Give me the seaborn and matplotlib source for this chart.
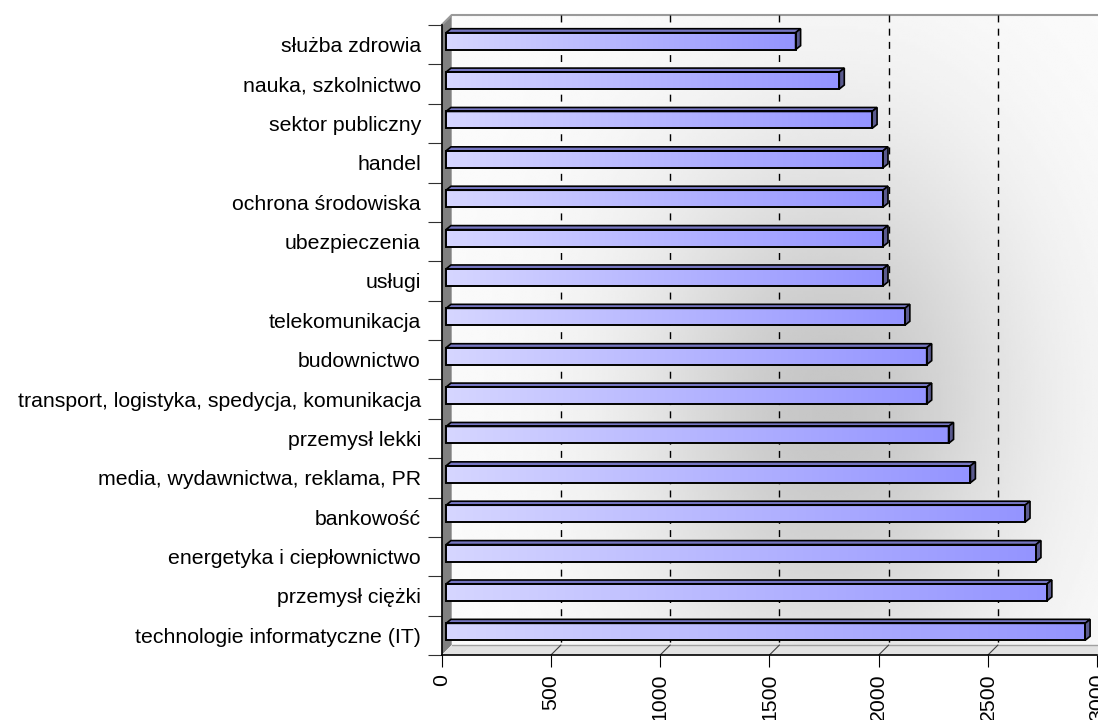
import numpy as np
import matplotlib
matplotlib.use("Agg")
import matplotlib.pyplot as plt
import seaborn as sns
from matplotlib.colors import LinearSegmentedColormap
from matplotlib.patches import Polygon
from matplotlib.lines import Line2D

# data
categories = [
    "służba zdrowia",
    "nauka, szkolnictwo",
    "sektor publiczny",
    "handel",
    "ochrona środowiska",
    "ubezpieczenia",
    "usługi",
    "telekomunikacja",
    "budownictwo",
    "transport, logistyka, spedycja, komunikacja",
    "przemysł lekki",
    "media, wydawnictwa, reklama, PR",
    "bankowość",
    "energetyka i ciepłownictwo",
    "przemysł ciężki",
    "technologie informatyczne (IT)",
]
values = [1600, 1800, 1950, 2000, 2000, 2000, 2000, 2100,
          2200, 2200, 2300, 2400, 2650, 2700, 2750, 2925]
x_ticks = [0, 500, 1000, 1500, 2000, 2500, 3000]

sns.set_style("white")
plt.rcParams["font.family"] = ["Liberation Sans", "DejaVu Sans"]
plt.rcParams["text.color"] = "black"
plt.rcParams["xtick.color"] = "black"
plt.rcParams["ytick.color"] = "black"

FIG_W, FIG_H = 1098, 720
fig = plt.figure(figsize=(FIG_W / 100, FIG_H / 100), dpi=100)
ax_w, ax_h = 655.5, 630
ax = fig.add_axes([441.7 / FIG_W, 65 / FIG_H, ax_w / FIG_W, ax_h / FIG_H])

sns.barplot(x=values, y=categories, orient="h", width=0.43, errorbar=None,
            color="#aaaaff", saturation=1, ax=ax)

xmax = x_ticks[-1]
n = len(categories)
ax.set_xlim(0, xmax)
ax.set_ylim(n - 0.5, -0.5)

# pixel -> data helpers (y axis runs downwards)
ux = xmax / ax_w
uy = n / ax_h
wdx, wdy = 10 * ux, -10 * uy      # depth of the 3d box
bdx, bdy = 4.3 * ux, -3.5 * uy    # bars sit in the middle of the depth
cdx, cdy = 5 * ux, -4 * uy        # bar depth (top face / end cap)

y_top, y_bot = -0.5, n - 0.5

# back wall with soft grey shading
u = np.linspace(0, 1, 300)
v = np.linspace(0, 1, 200)
U, V = np.meshgrid(u, v)
shade = 0.985 - 0.21 * np.exp(-((U - 0.58) / 0.21) ** 2 / 2 - ((V - 0.62) / 0.3) ** 2 / 2)
ax.imshow(shade, cmap="gray", vmin=0, vmax=1, aspect="auto", origin="upper",
          extent=(wdx, xmax + wdx, y_bot + wdy, y_top + wdy),
          zorder=0, clip_on=False, interpolation="bilinear")

# left side wall
ax.add_patch(Polygon([(0, y_top), (wdx, y_top + wdy), (wdx, y_bot + wdy), (0, y_bot)],
                     closed=True, facecolor="#808080", edgecolor="none",
                     zorder=1, clip_on=False))
# floor
ax.add_patch(Polygon([(0, y_bot), (xmax, y_bot), (xmax + wdx, y_bot + wdy), (wdx, y_bot + wdy)],
                     closed=True, facecolor="#e2e2e2", edgecolor="none",
                     zorder=1, clip_on=False))
ax.add_line(Line2D([wdx, xmax + wdx], [y_bot + wdy, y_bot + wdy], color="#a0a0a0",
                   lw=1, zorder=1.2, clip_on=False))
# top edge of the box
ax.add_line(Line2D([0, wdx, xmax + wdx], [y_top, y_top + wdy, y_top + wdy],
                   color="#9a9a9a", lw=1.5, zorder=1.2, clip_on=False))

# dashed gridlines on the back wall, small lines across the floor
for t in x_ticks[1:-1]:
    ax.add_line(Line2D([t + wdx, t + wdx], [y_top + wdy, y_bot + wdy], color="black",
                       lw=1, ls=(0, (5, 4.5)), zorder=1.5, clip_on=False))
    ax.add_line(Line2D([t + wdx, t], [y_bot + wdy, y_bot], color="#404040",
                       lw=0.8, zorder=1.5, clip_on=False))

# 3d bars: gradient front face, darker top face and end cap
grad = LinearSegmentedColormap.from_list("bar", ["#d6d6ff", "#9494ff"])
ramp = np.linspace(0, 1, 256).reshape(1, -1)
for p in ax.patches[:]:
    if not hasattr(p, "get_width") or p.get_width() <= 0 or p.get_x() != 0:
        continue
    p.set_x(p.get_x() + bdx)
    p.set_y(p.get_y() + bdy)
    x0, y0 = p.get_x(), p.get_y()
    x1, y1 = x0 + p.get_width(), y0 + p.get_height()
    ax.imshow(ramp, cmap=grad, aspect="auto", extent=(x0, x1, y1, y0),
              zorder=3, interpolation="bilinear")
    p.set_facecolor("none")
    p.set_edgecolor("black")
    p.set_linewidth(1.4)
    p.set_zorder(4)
    ax.add_patch(Polygon([(x0, y0), (x1, y0), (x1 + cdx, y0 + cdy), (x0 + cdx, y0 + cdy)],
                         closed=True, facecolor="#7676c2", edgecolor="black",
                         lw=1.2, zorder=3.5))
    ax.add_patch(Polygon([(x1, y0), (x1 + cdx, y0 + cdy), (x1 + cdx, y1 + cdy), (x1, y1)],
                         closed=True, facecolor="#5a5a8e", edgecolor="black",
                         lw=1.2, zorder=3.5))

ax.set_xlim(0, xmax)
ax.set_ylim(n - 0.5, -0.5)

# axes, ticks and labels
ax.set_xticks(x_ticks)
ax.set_xticklabels([str(t) for t in x_ticks], rotation=90)
ax.set_yticks(range(n))
ax.set_yticklabels(categories)
ax.set_yticks(np.arange(-0.5, n, 1), minor=True)
ax.tick_params(axis="x", which="major", bottom=True, length=8.6, width=0.8,
               pad=5, labelsize=15.3, color="black", labelcolor="black")
ax.tick_params(axis="y", which="major", left=True, length=0, pad=15,
               labelsize=15.3, labelcolor="black")
ax.tick_params(axis="y", which="minor", left=True, length=10, width=0.8, color="#303030")
ax.set_xlabel("")
ax.set_ylabel("")
for side in ["top", "right"]:
    ax.spines[side].set_visible(False)
for side in ["left", "bottom"]:
    ax.spines[side].set_color("black")
    ax.spines[side].set_linewidth(1.2)
    ax.spines[side].set_zorder(5)

fig.savefig("out.png", dpi=100)
